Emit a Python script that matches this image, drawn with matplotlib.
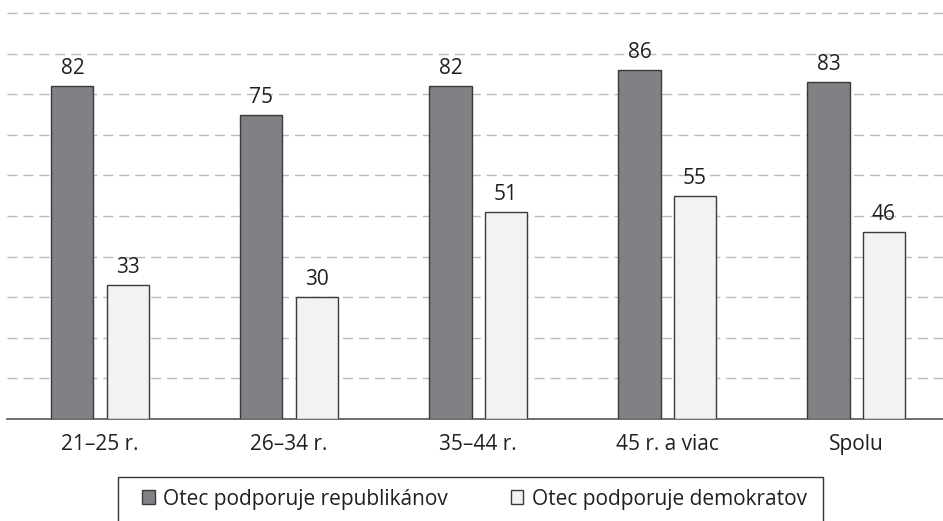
import matplotlib.pyplot as plt
from matplotlib.patches import Patch, Rectangle
import numpy as np

# data
kategorie = ["21–25 r.", "26–34 r.", "35–44 r.", "45 r. a viac", "Spolu"]
republikani = [82, 75, 82, 86, 83]
demokrati = [33, 30, 51, 55, 46]
nazvy = ["Otec podporuje republikánov", "Otec podporuje demokratov"]

plt.rcParams['font.family'] = ['Open Sans', 'DejaVu Sans']

tmava = '#808184'
svetla = '#f1f2f4'
okraj = '#3a3a3a'

fig = plt.figure(figsize=(9.43, 5.21), dpi=100)
ax = fig.add_axes([7/943, 102/521, 936/943, (419-9)/521])

x = np.arange(len(kategorie))
sirka = 0.223
posun = 0.146

b1 = ax.bar(x - posun, republikani, sirka, color=tmava, edgecolor=okraj, linewidth=1, zorder=3)
b2 = ax.bar(x + posun, demokrati, sirka, color=svetla, edgecolor=okraj, linewidth=1, zorder=3)

for bars in (b1, b2):
    ax.bar_label(bars, padding=5, fontsize=15, color='#231f20')

ax.set_ylim(0, 101)
ax.set_xlim(-0.492, 4.46)
ax.set_yticks(np.arange(10, 101, 10))
ax.yaxis.grid(True, color='#bbbbbb', linewidth=1, linestyle=(0, (7.2, 4.3)), zorder=0)
ax.tick_params(axis='y', left=False, labelleft=False)
ax.set_xticks(x)
ax.set_xticklabels(kategorie, fontsize=15, color='#231f20')
ax.tick_params(axis='x', length=0, pad=11)

for s in ['top', 'right', 'left']:
    ax.spines[s].set_visible(False)
ax.spines['bottom'].set_color('#555555')
ax.spines['bottom'].set_linewidth(1.2)

# legend box runs off the bottom edge
fig.patches.append(Rectangle((118/943, -0.1), (823-118)/943, 44/521 + 0.1,
                             transform=fig.transFigure, fill=False,
                             edgecolor='#333333', linewidth=1))

handles = [Patch(facecolor=tmava, edgecolor=okraj, linewidth=1),
           Patch(facecolor=svetla, edgecolor=okraj, linewidth=1)]
fig.legend(handles, nazvy, loc='center left', bbox_to_anchor=(142/943, 1 - 499/521),
           ncol=2, frameon=False, fontsize=15, handlelength=0.62, handleheight=0.62,
           handletextpad=0.4, columnspacing=3.0, borderpad=0, borderaxespad=0,
           labelcolor='#231f20')

fig.savefig('out.png', dpi=100)
